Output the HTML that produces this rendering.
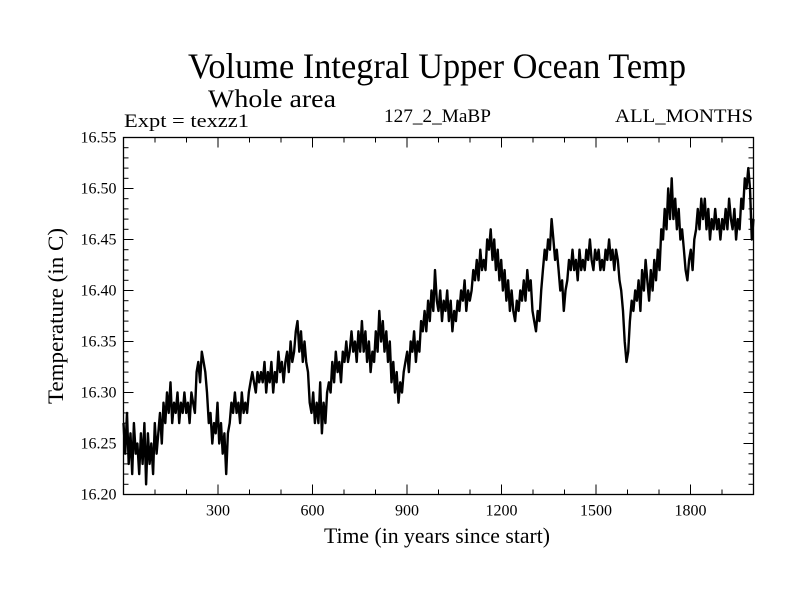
<!DOCTYPE html>
<html><head><meta charset="utf-8"><style>
body{margin:0;background:#fff}
svg{display:block;font-family:"Liberation Serif",serif}
</style></head><body>
<svg id="chart" width="800" height="600">
<text x="437" y="78" font-size="36" text-anchor="middle" textLength="498" lengthAdjust="spacingAndGlyphs">Volume Integral Upper Ocean Temp</text>
<text x="208" y="107" font-size="25" textLength="128" lengthAdjust="spacingAndGlyphs">Whole area</text>
<text x="124" y="127" font-size="19" textLength="125" lengthAdjust="spacingAndGlyphs">Expt = texzz1</text>
<text x="384" y="122" font-size="19" textLength="107" lengthAdjust="spacingAndGlyphs">127_2_MaBP</text>
<text x="753" y="122" font-size="19" text-anchor="end" textLength="138" lengthAdjust="spacingAndGlyphs">ALL_MONTHS</text>
<text x="437" y="543" font-size="22" text-anchor="middle" textLength="226" lengthAdjust="spacingAndGlyphs">Time (in years since start)</text>
<text transform="translate(63,316) rotate(-90)" font-size="22" text-anchor="middle" textLength="176" lengthAdjust="spacingAndGlyphs">Temperature (in C)</text>
<g id="axes"></g>
<g id="series"></g>
<rect x="123.5" y="137.5" width="630" height="357" fill="none" stroke="#000" stroke-width="1.3"/>
</svg>
<script>
const xTicks=[300,600,900,1200,1500,1800];
const yTicks=[16.20,16.25,16.30,16.35,16.40,16.45,16.50,16.55];
const temps=[
16.27,16.24,16.28,16.23,16.26,16.22,16.27,16.24,16.25,16.22,16.26,16.23,16.27,16.21,16.26,16.23,16.25,16.22,16.27,16.24,
16.26,16.28,16.25,16.29,16.27,16.30,16.28,16.31,16.27,16.29,16.28,16.30,16.27,16.29,16.28,16.30,16.28,16.29,16.27,16.30,
16.29,16.28,16.32,16.33,16.31,16.34,16.33,16.32,16.30,16.27,16.28,16.25,16.27,16.26,16.29,16.25,16.27,16.24,16.26,16.22,
16.26,16.27,16.29,16.28,16.30,16.28,16.29,16.27,16.30,16.28,16.29,16.28,16.30,16.31,16.32,16.31,16.30,16.32,16.31,16.32,
16.31,16.33,16.30,16.32,16.31,16.33,16.30,16.32,16.31,16.34,16.32,16.33,16.31,16.33,16.34,16.32,16.35,16.33,16.34,16.36,
16.37,16.34,16.36,16.33,16.35,16.33,16.32,16.29,16.28,16.30,16.27,16.29,16.27,16.31,16.26,16.29,16.27,16.30,16.31,16.30,
16.33,16.31,16.34,16.32,16.33,16.31,16.34,16.33,16.35,16.33,16.34,16.36,16.34,16.35,16.33,16.36,16.34,16.37,16.34,16.36,
16.33,16.35,16.32,16.34,16.33,16.36,16.34,16.38,16.35,16.37,16.34,16.36,16.33,16.35,16.31,16.33,16.30,16.32,16.29,16.31,
16.30,16.32,16.33,16.34,16.32,16.35,16.34,16.36,16.33,16.35,16.34,16.37,16.36,16.38,16.36,16.39,16.37,16.40,16.38,16.42,
16.39,16.38,16.40,16.37,16.39,16.38,16.40,16.37,16.39,16.36,16.38,16.37,16.39,16.38,16.40,16.39,16.41,16.38,16.40,16.39];
const temps2=[
16.40,16.42,16.41,16.43,16.41,16.44,16.42,16.43,16.42,16.45,16.44,16.46,16.43,16.45,16.42,16.44,16.41,16.43,16.40,16.42,
16.39,16.41,16.38,16.40,16.38,16.37,16.39,16.38,16.40,16.39,16.41,16.39,16.42,16.40,16.41,16.38,16.37,16.36,16.38,16.37,
16.40,16.42,16.44,16.43,16.45,16.44,16.47,16.45,16.43,16.44,16.42,16.40,16.41,16.38,16.40,16.41,16.43,16.42,16.44,16.42,
16.43,16.41,16.44,16.42,16.43,16.42,16.44,16.43,16.45,16.43,16.42,16.44,16.43,16.44,16.42,16.43,16.42,16.44,16.43,16.45,
16.43,16.44,16.42,16.44,16.43,16.41,16.40,16.38,16.35,16.33,16.34,16.37,16.39,16.38,16.40,16.39,16.41,16.38,16.42,16.40,
16.43,16.41,16.39,16.42,16.40,16.43,16.41,16.44,16.42,16.46,16.45,16.48,16.46,16.50,16.47,16.51,16.47,16.49,16.46,16.48,
16.45,16.46,16.44,16.42,16.41,16.43,16.44,16.42,16.45,16.46,16.48,16.46,16.49,16.47,16.49,16.46,16.48,16.45,16.47,16.46,
16.48,16.46,16.47,16.45,16.47,16.46,16.48,16.46,16.49,16.47,16.46,16.48,16.45,16.47,16.46,16.49,16.48,16.51,16.50,16.52,
16.50,16.45,16.47];
const xMin=0,xMax=2000,yMin=16.20,yMax=16.55;
const L=123.5,R=753.5,T=137.5,B=494.5;
const sx=v=>L+(v-xMin)/(xMax-xMin)*(R-L);
const sy=v=>B-(v-yMin)/(yMax-yMin)*(B-T);
const NS="http://www.w3.org/2000/svg";
const axes=document.getElementById('axes');
function mk(tag,attrs,parent){const e=document.createElementNS(NS,tag);for(const k in attrs)e.setAttribute(k,attrs[k]);parent.appendChild(e);return e;}
for(let v=100;v<xMax;v+=100){
  const major=xTicks.includes(v);const len=major?10:5;
  const t1=mk('line',{x1:sx(v),x2:sx(v),y1:B,y2:B-len,stroke:'#000','stroke-width':1},axes);
  
  
  const t2=mk('line',{x1:sx(v),x2:sx(v),y1:T,y2:T+len,stroke:'#000','stroke-width':1},axes);
  
  
}
xTicks.forEach(v=>{
  const t=mk('text',{x:sx(v),y:B+21,'font-size':16,'text-anchor':'middle'},axes);
  t.textContent=v;
  
  
});
for(let i=1;i<35;i++){
  const v=yMin+i*0.01;const major=i%5===0;const len=major?10:5;
  const a=mk('line',{x1:L,x2:L+len,y1:sy(v),y2:sy(v),stroke:'#000','stroke-width':1},axes);
  
  
  const b=mk('line',{x1:R,x2:R-len,y1:sy(v),y2:sy(v),stroke:'#000','stroke-width':1},axes);
  
  
}
yTicks.forEach(v=>{
  const t=mk('text',{x:L-7,y:sy(v)+5,'font-size':16,'text-anchor':'end'},axes);
  t.textContent=v.toFixed(2);
  
  
});
const all=temps.concat(temps2);
const step=(xMax-xMin)/(all.length-1);
const pts=all.map((v,i)=>sx(xMin+i*step).toFixed(1)+','+sy(v).toFixed(1)).join(' ');
const line=mk('polyline',{points:pts,fill:'none',stroke:'#000','stroke-width':2.4,'stroke-linejoin':'round'},document.getElementById('series'));


</script>
</body></html>
